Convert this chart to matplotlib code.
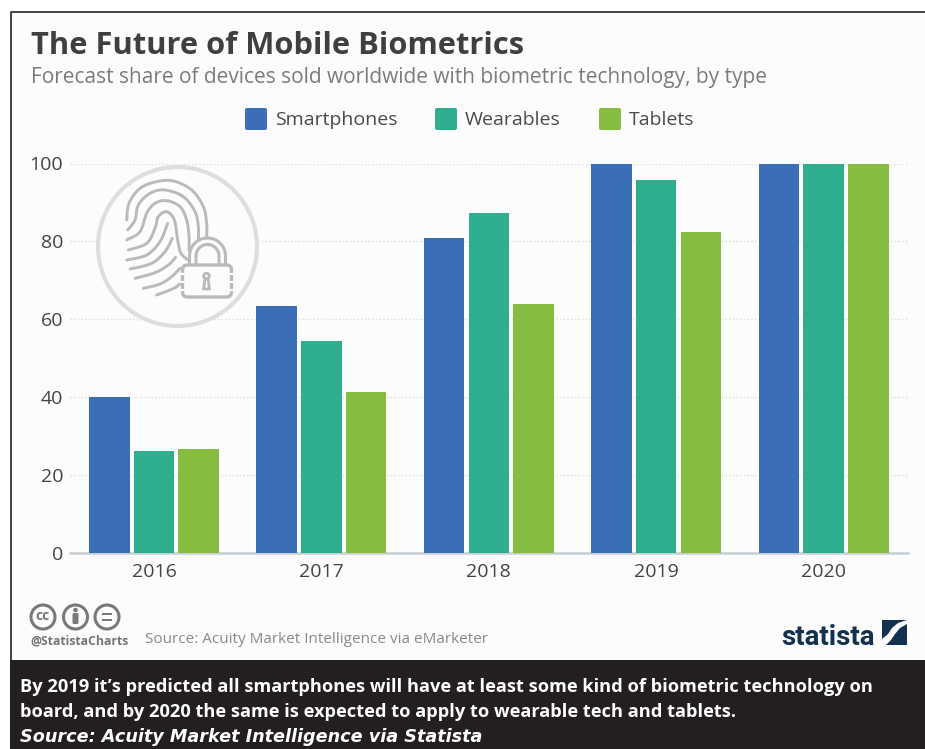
import numpy as np
import matplotlib
matplotlib.use("Agg")
import matplotlib.pyplot as plt
from matplotlib.patches import Circle, FancyBboxPatch, Polygon, Rectangle

plt.rcParams["font.family"] = ["Open Sans", "DejaVu Sans"]

years = ["2016", "2017", "2018", "2019", "2020"]
smartphones = [40, 63.5, 80.8, 100, 100]
wearables = [26.3, 54.5, 87.2, 95.8, 100]
tablets = [26.8, 41.3, 64, 82.5, 100]
y_ticks = [0, 20, 40, 60, 80, 100]

series_names = ["Smartphones", "Wearables", "Tablets"]
series_colors = ["#3a6fb7", "#2fae8f", "#86bd40"]

title = "The Future of Mobile Biometrics"
subtitle = "Forecast share of devices sold worldwide with biometric technology, by type"
source = "Source: Acuity Market Intelligence via eMarketer"
caption = [
    "By 2019 it\u2019s predicted all smartphones will have at least some kind of biometric technology on",
    "board, and by 2020 the same is expected to apply to wearable tech and tablets.",
]
caption_source = "Source: Acuity Market Intelligence via Statista"

W, H = 925, 749
ICON = "#bcbab8"
PAPER = "#fcfcfc"

# Fingerprint ridges, in icon units (three units per pixel)
ridge_lines = [
    [(35, 150), (42, 100), (75, 55), (125, 35), (175, 33), (230, 60), (265, 110), (275, 160), (275, 205)],
    [(38, 180), (60, 150), (70, 105), (105, 70), (150, 60), (205, 80), (240, 125), (250, 170), (250, 210)],
    [(35, 210), (75, 185), (95, 130), (120, 100), (155, 92), (195, 110), (215, 150), (222, 200), (222, 240)],
    [(40, 240), (95, 220), (120, 175), (130, 140), (155, 125), (178, 150), (188, 210), (198, 250), (222, 272)],
    [(35, 270), (95, 255), (135, 215), (158, 160)],
    [(45, 297), (110, 280), (150, 245), (172, 205)],
    [(60, 325), (120, 308), (160, 285), (182, 262)],
    [(85, 355), (135, 342), (170, 320), (195, 295)],
    [(125, 375), (160, 362), (185, 350), (200, 335)],
]


def px_axes(fig, left, top, right, bottom):
    return fig.add_axes([left / W, 1 - bottom / H, (right - left) / W, (bottom - top) / H])


def smooth(points, n=12):
    # Catmull-Rom through the given points
    p = np.array(points, dtype=float)
    p = np.vstack([p[0], p, p[-1]])
    out = []
    for i in range(1, len(p) - 2):
        for t in np.linspace(0, 1, n, endpoint=False):
            out.append(0.5 * (2 * p[i] + (p[i + 1] - p[i - 1]) * t
                              + (2 * p[i - 1] - 5 * p[i] + 4 * p[i + 1] - p[i + 2]) * t ** 2
                              + (3 * p[i] - p[i - 1] - 3 * p[i + 1] + p[i + 2]) * t ** 3))
    out.append(p[-1])
    return np.array(out)


def draw_fingerprint(ax):
    # Round badge, ridges and padlock
    ax.add_patch(Circle((177.5, 246.5), 79.5, fc=PAPER, ec="#e0dedc", lw=3, zorder=2))
    for line in ridge_lines:
        curve = smooth(line)
        ax.plot(115 + curve[:, 0] / 3, 170 + curve[:, 1] / 3, color=ICON, lw=2.1,
                solid_capstyle="round", zorder=3)
    t = np.linspace(np.pi, 0, 40)
    for r in (18, 11.5):
        ax.plot(np.r_[207.5 - r, 207.5 + r * np.cos(t), 207.5 + r],
                np.r_[265, 256 - r * np.sin(t), 265], color=ICON, lw=2.2, zorder=4)
    ax.add_patch(FancyBboxPatch((182.5, 265), 49, 32, boxstyle="round,pad=0,rounding_size=5",
                                fc=PAPER, ec=ICON, lw=2.4, zorder=4))
    ax.add_patch(Circle((206.5, 276), 2.8, fc="none", ec=ICON, lw=2, zorder=5))
    ax.plot([205, 203.5, 209.5, 208], [279, 289, 289, 279], color=ICON, lw=2, zorder=5)
    for y in (274, 282, 290):
        ax.plot([180, 186], [y, y], color=PAPER, lw=1.6, zorder=5)
        ax.plot([228, 234], [y, y], color=PAPER, lw=1.6, zorder=5)


def draw_footer(ax):
    gray = "#7b7977"
    for x in (43, 75.5, 107):
        ax.add_patch(Circle((x, 617), 12, fc="none", ec=gray, lw=2.2))
    ax.text(43, 616.5, "cc", fontsize=10, fontweight="bold", color=gray, ha="center", va="center")
    ax.add_patch(Circle((75.5, 610), 2.3, fc=gray, ec="none"))
    ax.add_patch(FancyBboxPatch((72.5, 613), 6, 11, boxstyle="round,pad=0,rounding_size=1.5", fc=gray, ec="none"))
    ax.add_patch(Rectangle((102, 612.5), 10, 2.4, fc=gray, ec="none"))
    ax.add_patch(Rectangle((102, 618.5), 10, 2.4, fc=gray, ec="none"))
    ax.text(30, 640.5, "@StatistaCharts", fontsize=8.85, fontweight="bold", color="#777573", va="center")
    ax.text(145, 639.5, source, fontsize=11, color="#8b8987", va="center")
    # statista wordmark
    navy = "#12304f"
    ax.text(781, 645, "statista", fontsize=20, fontweight="bold", color=navy, va="baseline",
            family=["Roboto"])
    ax.add_patch(Rectangle((882, 620), 25, 25, fc=navy, ec="none"))
    ax.add_patch(Polygon([(882, 639), (888, 634), (892, 628), (898, 623), (907, 620), (907, 624),
                          (900, 628), (895, 634), (891, 640), (886, 645), (882, 645)],
                         fc=PAPER, ec="none"))


fig = plt.figure(figsize=(W / 100, H / 100), dpi=100, facecolor="white")

# Page layer behind the chart
bg = px_axes(fig, 0, 0, W, H)
bg.set_xlim(0, W)
bg.set_ylim(H, 0)
bg.axis("off")
bg.add_patch(Rectangle((10, 12), W - 10, 648, fc=PAPER, ec="none"))
bg.plot([10.5, 10.5, W], [660, 12, 12], color="#222222", lw=1.2)
bg.add_patch(Rectangle((10, 660), W - 10, H - 660, fc="#231f20", ec="none"))

ax = px_axes(fig, 70, 163.5, 908, 553)
ax.patch.set_alpha(0)
x = np.arange(len(years))
width = 0.242
step = 0.267
for offset, values, color in zip((-step, 0, step), (smartphones, wearables, tablets), series_colors):
    ax.bar(x + offset, values, width=width, color=color, zorder=3)
ax.set_xlim(-0.502, 4.504)
ax.set_ylim(0, 100)
ax.set_xticks(x, years)
ax.set_yticks(y_ticks)
ax.tick_params(length=0, labelsize=14, labelcolor="#444444")
ax.tick_params(axis="x", pad=7)
ax.tick_params(axis="y", pad=5)
ax.grid(axis="y", color="#dcdcdc", linestyle=":", linewidth=1, zorder=0)
for name in ("top", "right", "left"):
    ax.spines[name].set_visible(False)
ax.spines["bottom"].set_color("#c6ced4")
ax.spines["bottom"].set_linewidth(1.8)

# Pixel-space layer for headings, legend, badge and footer
ov = px_axes(fig, 0, 0, W, H)
ov.set_xlim(0, W)
ov.set_ylim(H, 0)
ov.axis("off")
ov.patch.set_alpha(0)

ov.text(31, 46, title, fontsize=22.2, fontweight="bold", color="#3f3f3f", va="center")
ov.text(31, 78, subtitle, fontsize=15, color="#7d7b7a", va="center")

legend_x = [245, 435, 599]
for lx, name, color in zip(legend_x, series_names, series_colors):
    ov.add_patch(FancyBboxPatch((lx, 108), 22, 22, boxstyle="round,pad=0,rounding_size=2", fc=color, ec="none"))
    ov.text(lx + 30, 120, name, fontsize=14, color="#4a4a4a", va="center")

draw_fingerprint(ov)
draw_footer(ov)

ov.text(20, 687, caption[0], fontsize=13.15, fontweight="bold", color="white", va="center")
ov.text(20, 712, caption[1], fontsize=13.15, fontweight="bold", color="white", va="center")
ov.text(20, 737, caption_source, fontsize=12.7, fontweight="bold", style="italic", color="white", va="center",
        family=["DejaVu Sans"])

fig.savefig("out.png", dpi=100)
